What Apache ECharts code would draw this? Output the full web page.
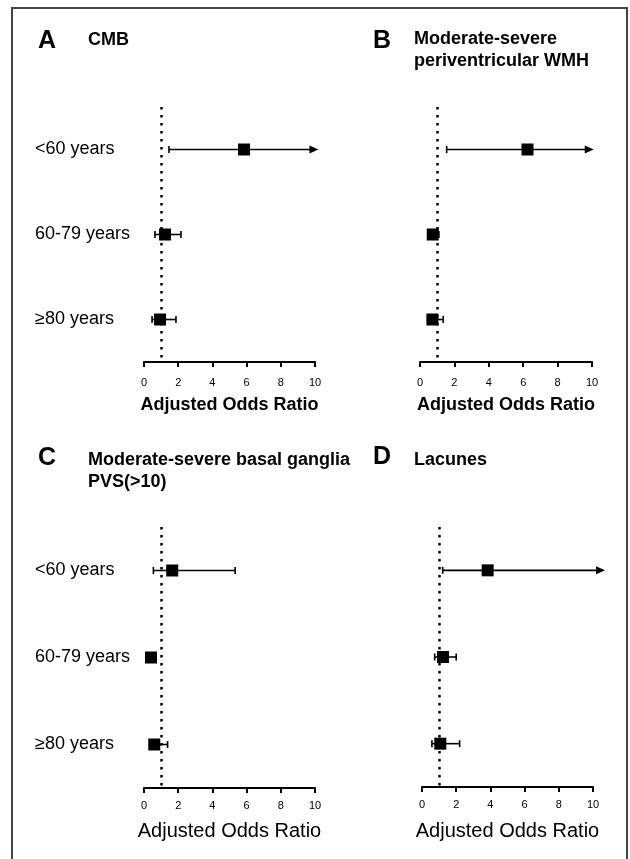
<!DOCTYPE html>
<html>
<head>
<meta charset="utf-8">
<script src="https://cdn.jsdelivr.net/npm/echarts@6.0.0/dist/echarts.min.js"></script>
<style>
html,body{margin:0;padding:0;background:#fff;}
#chart{width:630px;height:859px;}
</style>
</head>
<body>
<div id="chart"></div>
<script>
// ---- Data ----
const categories = ['<60 years', '60-79 years', '≥80 years'];
const xTicks = [0, 2, 4, 6, 8, 10];
const refLine = 1;

const panelLetters = ['A', 'B', 'C', 'D'];
const panelTitles = [
  ['CMB'],
  ['Moderate-severe', 'periventricular WMH'],
  ['Moderate-severe basal ganglia', 'PVS(>10)'],
  ['Lacunes']
];

// odds ratios (point estimates) per age group
const orCMB     = [5.85, 1.23, 0.94];
const orPVWMH   = [6.25, 0.74, 0.72];
const orBGPVS   = [1.65, 0.41, 0.60];
const orLacunes = [3.84, 1.23, 1.07];

// lower 95% CI
const loCMB     = [1.46, 0.64, 0.47];
const loPVWMH   = [1.55, 0.50, 0.45];
const loBGPVS   = [0.55, 0.30, 0.40];
const loLacunes = [1.21, 0.74, 0.58];

// upper 95% CI (arrow-tipped where the interval runs off the axis)
const hiCMB     = [10.2, 2.16, 1.87];
const hiPVWMH   = [10.1, 1.10, 1.35];
const hiBGPVS   = [5.33, 0.55, 1.38];
const hiLacunes = [10.7, 2.00, 2.20];

const arrowCMB     = [1, 0, 0];
const arrowPVWMH   = [1, 0, 0];
const arrowBGPVS   = [0, 0, 0];
const arrowLacunes = [1, 0, 0];

const pointSets = [orCMB, orPVWMH, orBGPVS, orLacunes];
const lowSets = [loCMB, loPVWMH, loBGPVS, loLacunes];
const highSets = [hiCMB, hiPVWMH, hiBGPVS, hiLacunes];
const arrowSets = [arrowCMB, arrowPVWMH, arrowBGPVS, arrowLacunes];

// ---- Layout ----
const FONT = '"Liberation Sans", Arial, sans-serif';
const gridsLayout = [
  {left: 144, top: 107, width: 171, height: 255},
  {left: 420, top: 107, width: 172, height: 255},
  {left: 144, top: 527, width: 171, height: 261},
  {left: 422, top: 527, width: 171, height: 260}
];
const showCats = [true, false, true, false];
const nameBold = [true, true, false, false];
const nameSizes = [18, 18, 20, 20];
const nameGaps = [34, 34, 33, 34];
const labelMargins = [15, 15, 12, 12];

const chart = echarts.init(document.getElementById('chart'), null, {renderer: 'canvas'});

function renderErr(params, api) {
  const y = api.value(2);
  const lo = api.coord([api.value(0), y]);
  const hi = api.coord([api.value(1), y]);
  const arrow = api.value(3);
  const yy = lo[1];
  const h = 3.5;
  const st = {stroke: '#000', lineWidth: 1.6};
  const children = [
    {type: 'line', shape: {x1: lo[0], y1: yy, x2: arrow ? hi[0] - 6 : hi[0], y2: yy}, style: st},
    {type: 'line', shape: {x1: lo[0], y1: yy - h, x2: lo[0], y2: yy + h}, style: st}
  ];
  if (arrow) {
    children.push({type: 'polygon', shape: {points: [[hi[0], yy], [hi[0] - 9, yy - 4], [hi[0] - 9, yy + 4]]}, style: {fill: '#000'}});
  } else {
    children.push({type: 'line', shape: {x1: hi[0], y1: yy - h, x2: hi[0], y2: yy + h}, style: st});
  }
  return {type: 'group', children};
}

const grid = [], xAxis = [], yAxis = [], series = [];
for (let i = 0; i < 4; i++) {
  grid.push(Object.assign({containLabel: false}, gridsLayout[i]));
  xAxis.push({
    type: 'value', gridIndex: i, min: xTicks[0], max: xTicks[xTicks.length - 1],
    interval: xTicks[1] - xTicks[0],
    name: 'Adjusted Odds Ratio', nameLocation: 'middle', nameGap: nameGaps[i],
    nameTextStyle: {fontFamily: FONT, fontSize: nameSizes[i], fontWeight: nameBold[i] ? 'bold' : 'normal', color: '#000'},
    axisLine: {show: true, lineStyle: {color: '#000', width: 2}},
    axisTick: {show: true, inside: false, length: 5, lineStyle: {color: '#000', width: 2}},
    axisLabel: {fontFamily: FONT, fontSize: 11, color: '#000', margin: labelMargins[i]},
    splitLine: {show: false}
  });
  yAxis.push({
    type: 'category', gridIndex: i, data: categories, inverse: true,
    axisLine: {show: false}, axisTick: {show: false}, splitLine: {show: false},
    axisLabel: {show: showCats[i], align: 'left', margin: gridsLayout[i].left - 35, fontFamily: FONT, fontSize: 18, color: '#000'}
  });
  series.push({
    type: 'custom', xAxisIndex: i, yAxisIndex: i, renderItem: renderErr, z: 2, silent: true,
    encode: {x: [0, 1], y: 2},
    data: categories.map((c, k) => [lowSets[i][k], highSets[i][k], k, arrowSets[i][k]])
  });
  series.push({
    type: 'scatter', xAxisIndex: i, yAxisIndex: i, symbol: 'rect', symbolSize: 12, z: 3, silent: true,
    itemStyle: {color: '#000', opacity: 1},
    data: categories.map((c, k) => [pointSets[i][k], k]),
    markLine: {
      silent: true, symbol: 'none', label: {show: false},
      lineStyle: {color: '#000', width: 2.5, type: [2.5, 5.5], opacity: 1},
      data: [{xAxis: refLine}]
    }
  });
}

const letterPos = [[38, 41], [373, 41], [38, 458], [373, 457]];
const titlePos = [[88, 40], [414, 39], [88, 460], [414, 460]];
const graphic = [{
  type: 'rect', shape: {x: 12, y: 8, width: 615, height: 880}, z: -1,
  style: {fill: '#fff', stroke: '#444', lineWidth: 2}
}];
for (let i = 0; i < 4; i++) {
  graphic.push({type: 'text', x: letterPos[i][0], y: letterPos[i][1],
    style: {text: panelLetters[i], font: 'bold 25px ' + FONT, fill: '#000', verticalAlign: 'middle'}});
  panelTitles[i].forEach((t, j) => {
    graphic.push({type: 'text', x: titlePos[i][0], y: titlePos[i][1] + j * 22,
      style: {text: t, font: 'bold 18px ' + FONT, fill: '#000', verticalAlign: 'middle'}});
  });
}

chart.setOption({
  backgroundColor: '#fff',
  animation: false,
  grid, xAxis, yAxis, series, graphic
});
</script>
</body>
</html>
